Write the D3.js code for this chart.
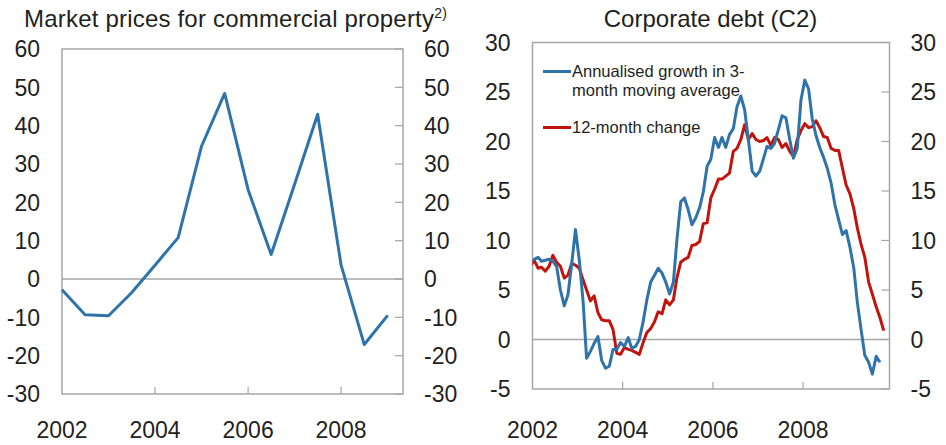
<!DOCTYPE html>
<html>
<head>
<meta charset="utf-8">
<script src="https://cdn.jsdelivr.net/npm/d3@7"></script>
<style>
  body { margin: 0; background: #fff; }
  text { font-family: "Liberation Sans", Arial, sans-serif; fill: #231f20; }
</style>
</head>
<body>
<div id="chart"></div>
<script>
var width = 946,
    height = 445;

// left panel: market prices for commercial property, half-yearly
var propDates = ["2002-01", "2002-07", "2003-01", "2003-07", "2004-01", "2004-07", "2005-01",
                 "2005-07", "2006-01", "2006-07", "2007-01", "2007-07", "2008-01", "2008-07", "2009-01"];
var propValues = [-2.8, -9.3, -9.6, -3.6, 3.6, 10.8, 34.7, 48.4, 23.3, 6.4, 24.7, 43.0, 3.6, -17.1, -9.5];

// right panel: corporate debt C2, monthly from Dec 2001
var debtStart = "2001-12";
var growth3m = [7.9, 8.1, 8.3, 7.9, 8.0, 8.1, 7.9, 7.4, 5.0, 3.4, 4.5, 7.7, 11.1,
                8.0, 3.8, -1.9, -1.2, -0.4, 0.3, -2.1, -2.9, -2.7, -1.0, -1.0, -0.3,
                -0.7, 0.2, -0.9, -0.7, 0.0, 1.8, 4.0, 5.8, 6.5, 7.2, 6.7, 5.8,
                4.6, 5.8, 10.0, 13.9, 14.3, 13.1, 11.6, 12.3, 13.3, 14.9, 17.5, 18.2,
                20.4, 19.4, 20.4, 19.4, 20.7, 21.3, 23.5, 24.6, 23.2, 20.2, 17.0, 16.5,
                17.0, 18.3, 19.5, 19.3, 19.8, 21.2, 22.6, 22.4, 20.2, 18.3, 19.3, 24.2,
                26.2, 25.3, 22.3, 20.6, 19.4, 18.4, 17.3, 15.8, 13.6, 12.1, 10.6, 11.0,
                9.3, 7.2, 3.8, 1.0, -1.6, -2.3, -3.5, -1.7, -2.3];
var change12m = [7.4, 8.0, 7.2, 7.3, 6.9, 7.4, 8.5, 7.8, 7.4, 6.2, 6.5, 7.7, 7.5,
                 7.2, 6.0, 5.0, 3.9, 4.4, 2.7, 2.0, 1.9, 1.9, 1.0, -1.4, -1.5,
                 -0.8, -1.0, -1.1, -1.3, -1.5, -0.3, 0.7, 1.1, 1.8, 2.8, 2.6, 4.0,
                 3.5, 4.0, 6.2, 7.8, 8.1, 8.3, 9.5, 9.6, 9.9, 11.7, 11.8, 14.3,
                 15.2, 16.2, 16.2, 16.5, 16.8, 19.0, 19.3, 20.2, 21.7, 20.2, 20.8, 20.2,
                 20.0, 20.1, 20.4, 19.6, 20.4, 20.2, 19.4, 19.8, 19.0, 18.5, 20.2, 21.1,
                 21.8, 21.4, 21.5, 22.1, 21.4, 20.5, 20.4, 19.3, 19.1, 19.1, 17.3, 15.6,
                 14.7, 13.2, 11.3, 9.6, 8.3, 5.8, 4.6, 3.3, 2.2, 0.9];

var yearTicks = ["2002", "2004", "2006", "2008"];
var propTicks = [60, 50, 40, 30, 20, 10, 0, -10, -20, -30];
var debtTicks = [30, 25, 20, 15, 10, 5, 0, -5];
var legendLabels = [["Annualised growth in 3-", "month moving average"], ["12-month change"]];

var blue = "#2f73ab", red = "#c0140c", grid = "#a6a6a6";

var parseMonth = d3.timeParse("%Y-%m");
function midMonth(i) {
    var d = d3.timeMonth.offset(parseMonth(debtStart), i);
    return d3.timeDay.offset(d, 14);
}

var svg = d3.select("#chart").append("svg")
    .attr("width", width)
    .attr("height", height);

function panel(opts) {
    var g = svg.append("g");
    var x = d3.scaleTime().domain(opts.xDomain).range([opts.left, opts.right]);
    var y = d3.scaleLinear().domain(opts.yDomain).range([opts.bottom, opts.top]);

    var clipId = "clip-" + opts.id;
    svg.append("clipPath").attr("id", clipId)
      .append("rect")
        .attr("x", opts.left).attr("y", opts.top)
        .attr("width", opts.right - opts.left).attr("height", opts.bottom - opts.top);

    // zero line
    g.append("line")
        .attr("x1", opts.left).attr("x2", opts.right)
        .attr("y1", y(0)).attr("y2", y(0))
        .attr("stroke", grid).attr("stroke-width", 1.5);

    // right-side inner ticks
    g.append("g").selectAll("line")
      .data(opts.ticks)
      .enter().append("line")
        .attr("x1", opts.right - 8).attr("x2", opts.right)
        .attr("y1", function(d) { return y(d); })
        .attr("y2", function(d) { return y(d); })
        .attr("stroke", grid).attr("stroke-width", 1.2);

    // bottom inner ticks
    g.append("g").selectAll("line")
      .data(yearTicks.slice(1))
      .enter().append("line")
        .attr("x1", function(d) { return x(parseMonth(d + "-01")); })
        .attr("x2", function(d) { return x(parseMonth(d + "-01")); })
        .attr("y1", opts.bottom - 7).attr("y2", opts.bottom)
        .attr("stroke", grid).attr("stroke-width", 1.2);

    // frame
    g.append("rect")
        .attr("x", opts.left).attr("y", opts.top)
        .attr("width", opts.right - opts.left).attr("height", opts.bottom - opts.top)
        .attr("fill", "none").attr("stroke", grid).attr("stroke-width", 1.5);

    // y labels both sides
    g.append("g").selectAll("text")
      .data(opts.ticks)
      .enter().append("text")
        .attr("x", opts.left - 22).attr("y", function(d) { return y(d); })
        .attr("dy", "0.36em").attr("text-anchor", "end")
        .style("font-size", "23px")
        .text(function(d) { return d; });
    g.append("g").selectAll("text")
      .data(opts.ticks)
      .enter().append("text")
        .attr("x", opts.right + 21).attr("y", function(d) { return y(d); })
        .attr("dy", "0.36em").attr("text-anchor", "start")
        .style("font-size", "23px")
        .text(function(d) { return d; });

    // x labels
    g.append("g").selectAll("text")
      .data(yearTicks)
      .enter().append("text")
        .attr("x", function(d) { return x(parseMonth(d + "-01")); })
        .attr("y", 438)
        .attr("text-anchor", "middle")
        .style("font-size", "23px")
        .text(function(d) { return d; });

    return { g: g, x: x, y: y, clip: "url(#" + clipId + ")" };
}

// ---- left panel
var p1 = panel({
    id: "prop", left: 62, right: 403, top: 49, bottom: 394,
    xDomain: [parseMonth("2002-01"), parseMonth("2009-05")],
    yDomain: [-30, 60], ticks: propTicks
});

var line1 = d3.line()
    .x(function(d, i) { return p1.x(parseMonth(propDates[i])); })
    .y(function(d) { return p1.y(d); });

p1.g.append("path")
    .datum(propValues)
    .attr("d", line1)
    .attr("fill", "none")
    .attr("stroke", blue)
    .attr("stroke-width", 3)
    .attr("stroke-linejoin", "round");

var t1 = svg.append("text")
    .attr("x", 24).attr("y", 27)
    .style("font-size", "24px")
    .style("letter-spacing", "0.2px");
t1.append("tspan").text("Market prices for commercial property");
t1.append("tspan").attr("dy", -9).style("font-size", "14px").text("2)");

// ---- right panel
var p2 = panel({
    id: "debt", left: 532.5, right: 889.5, top: 42.5, bottom: 389,
    xDomain: [parseMonth("2002-01"), parseMonth("2009-12")],
    yDomain: [-5, 30], ticks: debtTicks
});

var line2 = d3.line()
    .x(function(d, i) { return p2.x(midMonth(i)); })
    .y(function(d) { return p2.y(d); });

p2.g.append("path")
    .datum(change12m)
    .attr("clip-path", p2.clip)
    .attr("d", line2)
    .attr("fill", "none")
    .attr("stroke", red)
    .attr("stroke-width", 3)
    .attr("stroke-linejoin", "round");

p2.g.append("path")
    .datum(growth3m)
    .attr("clip-path", p2.clip)
    .attr("d", line2)
    .attr("fill", "none")
    .attr("stroke", blue)
    .attr("stroke-width", 3)
    .attr("stroke-linejoin", "round");

svg.append("text")
    .attr("x", 710.5).attr("y", 27)
    .attr("text-anchor", "middle")
    .style("font-size", "24px")
    .text("Corporate debt (C2)");

// legend
var legendY = [71.5, 127.5];
var legendColors = [blue, red];
legendLabels.forEach(function(lines, k) {
    svg.append("line")
        .attr("x1", 543).attr("x2", 571)
        .attr("y1", legendY[k]).attr("y2", legendY[k])
        .attr("stroke", legendColors[k]).attr("stroke-width", 3);
    var t = svg.append("text")
        .attr("x", 572).attr("y", legendY[k] + 5.5)
        .style("font-size", "16.5px");
    lines.forEach(function(s, j) {
        t.append("tspan").attr("x", 572).attr("dy", j ? 19 : 0).text(s);
    });
});
</script>
</body>
</html>
